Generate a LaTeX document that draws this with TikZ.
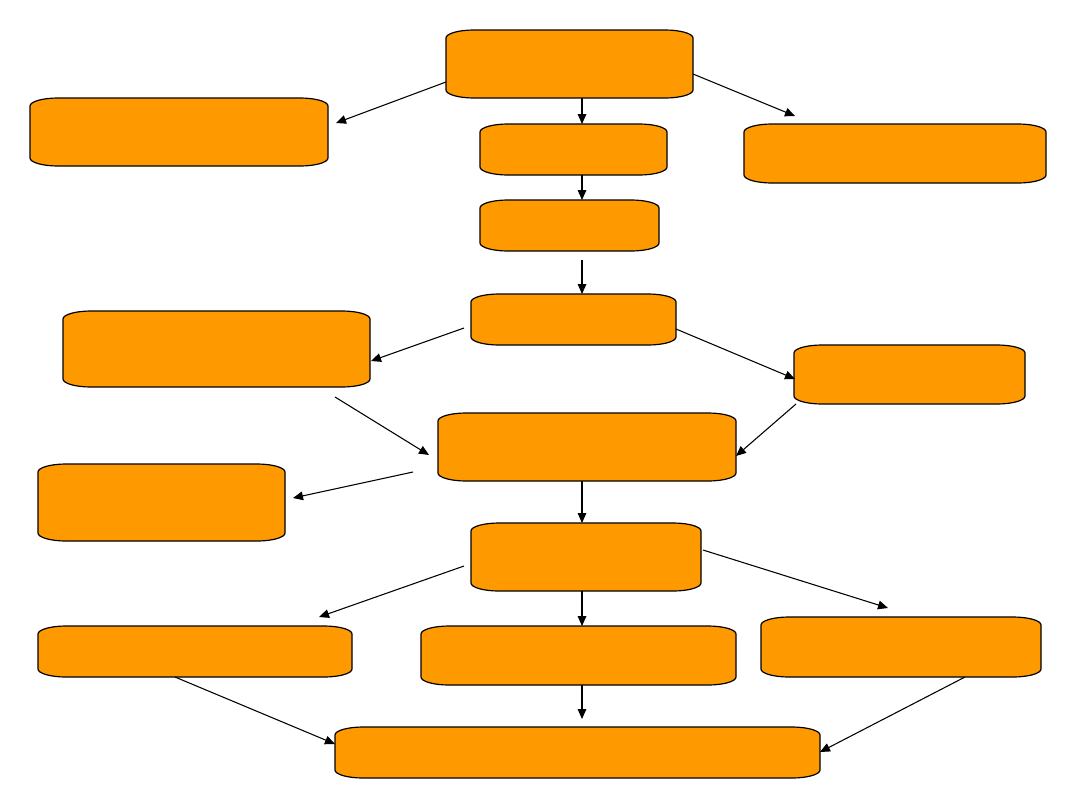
\documentclass[tikz,border=0pt]{standalone}
\usetikzlibrary{arrows.meta,fit}
\definecolor{boxorange}{RGB}{255,153,0}
\def\crx{28}
\def\cry{8}
\tikzset{
  boxline/.style={draw=black, line width=0.9pt, fill=boxorange},
  arr/.style={draw=black, line width=0.8pt, -{Triangle[length=7.5pt,width=6.5pt]}},
}
\newcommand\obox[5]{%
  \draw[boxline] ({#2+\crx},#3) -- ({#4-\crx},#3)
    .. controls ({#4-\crx*0.45},#3) and (#4,{#3+\cry*0.45}) .. (#4,{#3+\cry})
    -- (#4,{#5-\cry})
    .. controls (#4,{#5-\cry*0.45}) and ({#4-\crx*0.45},#5) .. ({#4-\crx},#5)
    -- ({#2+\crx},#5)
    .. controls ({#2+\crx*0.45},#5) and (#2,{#5-\cry*0.45}) .. (#2,{#5-\cry})
    -- (#2,{#3+\cry})
    .. controls (#2,{#3+\cry*0.45}) and ({#2+\crx*0.45},#3) .. cycle;
  \node[fit={(#2,#3) (#4,#5)}, inner sep=0pt] (#1) {};
}
\begin{document}
\begin{tikzpicture}[x=0.75pt,y=-0.75pt]
\useasboundingbox (0,0) rectangle (1080,810);
\obox{top}{446}{30}{693}{98}
\obox{lt}{30}{98}{328}{166}
\obox{c2}{480}{124}{667}{175}
\obox{rt}{744}{124}{1046}{183}
\obox{c3}{480}{200}{659}{251}
\obox{c4}{471}{294}{676}{345}
\obox{lm}{63}{311}{370}{387}
\obox{rm}{794}{345}{1025}{404}
\obox{c5}{438}{413}{736}{481}
\obox{ll}{38}{464}{285}{541}
\obox{c6}{471}{523}{701}{591}
\obox{bl}{38}{626}{352}{677}
\obox{bc}{421}{626}{736}{685}
\obox{br}{761}{617}{1041}{677}
\obox{fin}{335}{727}{820}{778}
% connector end points
\coordinate (p1s) at (446,82);  \coordinate (p1e) at (336,123);
\coordinate (p2s) at (582,98);  \coordinate (p2e) at (582,124);
\coordinate (p3s) at (693,74);  \coordinate (p3e) at (795,116);
\coordinate (p4s) at (582,175); \coordinate (p4e) at (582,200);
\coordinate (p5s) at (582,260); \coordinate (p5e) at (582,294);
\coordinate (p6s) at (464,328); \coordinate (p6e) at (371,361);
\coordinate (p7s) at (676,329); \coordinate (p7e) at (795,379);
\coordinate (p8s) at (335,397); \coordinate (p8e) at (429,455);
\coordinate (p9s) at (796,404); \coordinate (p9e) at (736,456);
\coordinate (p10s) at (413,472); \coordinate (p10e) at (293,498);
\coordinate (p11s) at (582,481); \coordinate (p11e) at (582,523);
\coordinate (p12s) at (464,566); \coordinate (p12e) at (319,617);
\coordinate (p13s) at (582,591); \coordinate (p13e) at (582,626);
\coordinate (p14s) at (703,550); \coordinate (p14e) at (888,608);
\coordinate (p15s) at (582,685); \coordinate (p15e) at (582,719);
\coordinate (p16s) at (175,677); \coordinate (p16e) at (335,744);
\coordinate (p17s) at (965,677); \coordinate (p17e) at (820,752);
\foreach \i in {1,...,17} {\draw[arr] (p\i s) -- (p\i e);}
\end{tikzpicture}
\end{document}
